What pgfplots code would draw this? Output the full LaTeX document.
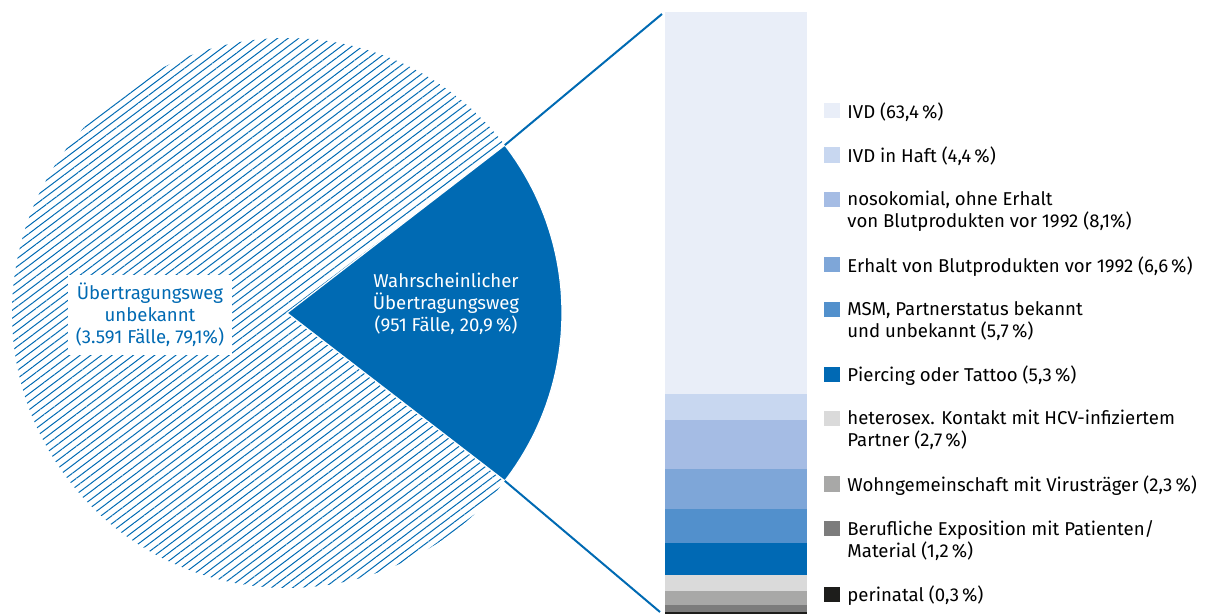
\documentclass[border=0pt]{standalone}
\usepackage{pgfplots}
\pgfplotsset{compat=1.18}
\usepackage{fontspec}
\setmainfont{Fira Sans}
\usetikzlibrary{patterns.meta}

\definecolor{hcvblue}{HTML}{006AB3}
\definecolor{cIVD}{HTML}{E9EEF8}
\definecolor{cHaft}{HTML}{C8D7F0}
\definecolor{cNoso}{HTML}{A5BCE4}
\definecolor{cBlut}{HTML}{7EA6D8}
\definecolor{cMSM}{HTML}{5290CC}
\definecolor{cPierc}{HTML}{0069B4}
\definecolor{cHetero}{HTML}{DADADA}
\definecolor{cWohn}{HTML}{A8A8A7}
\definecolor{cBeruf}{HTML}{7C7C7C}
\definecolor{cPeri}{HTML}{1D1D1B}

% square legend boxes for the stacked bar, level with the first text line
\pgfplotsset{
  sq/.style={legend image code/.code={\path (0pt,0pt);
      \fill[##1,draw=none] (0pt,-0.3pt) rectangle (8pt,-7.9pt);}},
  canvas/.style={at={(0,0)}, anchor=south west, scale only axis,
    width=603.5pt, height=308pt, hide axis, xmin=0, xmax=1207},
}

% share of known transmission route (pie)
\def\known{20.9}
\pgfmathsetmacro{\half}{\known*3.6/2}
\def\rad{137.5pt}

\begin{document}
\fontsize{9.3}{11}\selectfont
\begin{tikzpicture}
\useasboundingbox (0,0) rectangle (603.5pt,308pt);

\begin{axis}[canvas, ymin=0, ymax=616, clip=false]
  \coordinate (c) at (axis cs:287,303);
  % unknown route, hatched
  \path[pattern={Lines[angle=37,distance=3.2pt,line width=0.5pt]}, pattern color=hcvblue]
    (c) -- ++(\half:\rad) arc[start angle=\half, end angle=360-\half, radius=\rad] -- cycle;
  % known route
  \fill[hcvblue, draw=white, line width=0.6pt]
    (c) -- ++(-\half:\rad) arc[start angle=-\half, end angle=\half, radius=\rad] -- cycle;
  % connectors to the bar
  \draw[hcvblue, line width=1pt] (c) ++(\half:\rad) -- (axis cs:662,602);
  \draw[hcvblue, line width=1pt] (c) ++(-\half:\rad) -- (axis cs:660,4);
  \node[fill=white, text=hcvblue, align=center, inner sep=4pt]
    at (axis cs:150,301) {Übertragungsweg\\unbekannt\\(3.591 Fälle, 79,1\%)};
  \node[text=white, align=center]
    at (axis cs:446,312) {Wahrscheinlicher\\Übertragungsweg\\(951 Fälle, 20,9\,\%)};
\end{axis}

\begin{axis}[canvas, ymin=-0.33, ymax=102.0,
  ybar stacked, bar width=142,
  reverse legend,
  legend style={at={(0.6827,0.8345)}, anchor=north west, draw=none, fill=none,
    inner sep=0pt, row sep=13pt, column sep=3.5pt,
    font=\fontsize{9.3}{11}\selectfont,
    nodes={inner sep=0pt, outer sep=0pt},
    cells={anchor=north west, align=left}},
]
  \addplot[fill=cPeri, draw=none, sq] coordinates {(736,0.3)};
  \addlegendentry{perinatal (0,3\,\%)}
  \addplot[fill=cBeruf, draw=none, sq] coordinates {(736,1.2)};
  \addlegendentry{Berufliche Exposition mit Patienten/\\Material (1,2\,\%)}
  \addplot[fill=cWohn, draw=none, sq] coordinates {(736,2.3)};
  \addlegendentry{Wohngemeinschaft mit Virusträger (2,3\,\%)}
  \addplot[fill=cHetero, draw=none, sq] coordinates {(736,2.7)};
  \addlegendentry{heterosex. Kontakt mit HCV-infiziertem\\Partner (2,7\,\%)}
  \addplot[fill=cPierc, draw=none, sq] coordinates {(736,5.3)};
  \addlegendentry{Piercing oder Tattoo (5,3\,\%)}
  \addplot[fill=cMSM, draw=none, sq] coordinates {(736,5.7)};
  \addlegendentry{MSM, Partnerstatus bekannt\\und unbekannt (5,7\,\%)}
  \addplot[fill=cBlut, draw=none, sq] coordinates {(736,6.6)};
  \addlegendentry{Erhalt von Blutprodukten vor 1992 (6,6\,\%)}
  \addplot[fill=cNoso, draw=none, sq] coordinates {(736,8.1)};
  \addlegendentry{nosokomial, ohne Erhalt\\von Blutprodukten vor 1992 (8,1\%)}
  \addplot[fill=cHaft, draw=none, sq] coordinates {(736,4.4)};
  \addlegendentry{IVD in Haft (4,4\,\%)}
  \addplot[fill=cIVD, draw=none, sq] coordinates {(736,63.4)};
  \addlegendentry{IVD (63,4\,\%)}
\end{axis}
\end{tikzpicture}
\end{document}
